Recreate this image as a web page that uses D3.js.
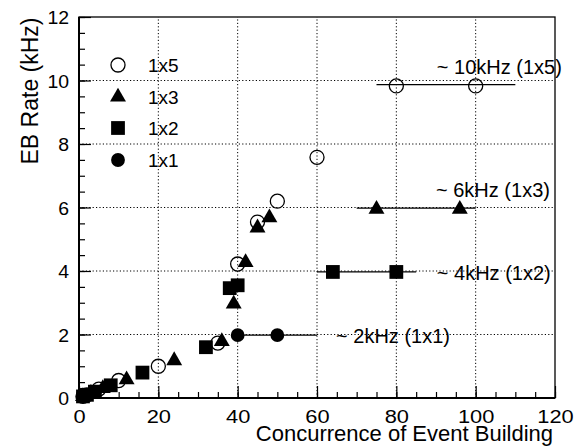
<!DOCTYPE html>
<html><head><meta charset="utf-8">
<script src="https://cdn.jsdelivr.net/npm/d3@7"></script>
<style>body{margin:0;background:#fff}svg{display:block}text{font-family:"Liberation Sans",Arial,sans-serif;fill:#000}</style>
</head><body><svg id="c" width="578" height="446"></svg>
<script>
// data
const s1x5 = [[1,0.05],[2,0.1],[5,0.28],[10,0.55],[20,1.0],[35,1.73],[40,4.22],[45,5.54],[50,6.2],[60,7.58],[80,9.83],[100,9.83]];
const s1x3 = [[1,0.05],[3,0.15],[6,0.3],[12,0.58],[24,1.18],[36,1.78],[39,2.96],[42,4.27],[45,5.36],[48,5.68],[75,5.95],[96,5.95]];
const s1x2 = [[1,0.05],[2,0.1],[4,0.2],[8,0.4],[16,0.8],[32,1.6],[38,3.46],[40,3.55],[64,3.97],[80,3.97]];
const s1x1 = [[1,0.05],[2,0.1],[4,0.2],[40,1.98],[50,1.98]];
const levelLines = [[75,110,9.87],[70,100,5.98],[60,85,3.97],[40,60,1.98]];
const annotations = [["~ 10kHz (1x5)",90.2,10.44],["~ 6kHz (1x3)",90,6.57],["~ 4kHz (1x2)",90.2,3.95],["~ 2kHz (1x1)",64.8,1.97]];
const legendLabels = ["1x5","1x3","1x2","1x1"];
const xTicks = [0,20,40,60,80,100,120];
const yTicks = [0,2,4,6,8,10,12];

const svg = d3.select("#c");
const L=79,R=555,T=17,B=398;
const x = d3.scaleLinear().domain([0,120]).range([L,R]);
const y = d3.scaleLinear().domain([0,12]).range([B,T]);

// grid
const g = svg.append("g");
g.selectAll(".gx").data(xTicks.slice(1,-1)).enter().append("line")
 .attr("x1",d=>x(d)).attr("x2",d=>x(d)).attr("y1",B).attr("y2",T)
 .attr("stroke","#000").attr("stroke-width",1).attr("stroke-dasharray","1.2,2.2");
g.selectAll(".gy").data(yTicks.slice(1,-1)).enter().append("line")
 .attr("y1",d=>y(d)).attr("y2",d=>y(d)).attr("x1",L).attr("x2",R)
 .attr("stroke","#000").attr("stroke-width",1).attr("stroke-dasharray","1.2,2.2");

// axes
const xAxis = d3.axisBottom(x).tickValues(xTicks).tickSize(-12).tickPadding(10);
const xMinor = d3.axisBottom(x).tickValues(d3.range(0,121,5)).tickSize(-6).tickFormat("");
const yAxis = d3.axisLeft(y).tickValues(yTicks).tickSize(-12).tickPadding(10);
const yMinor = d3.axisLeft(y).tickValues(d3.range(0,12.01,0.5)).tickSize(-6).tickFormat("");
function style(sel){sel.select(".domain").remove();sel.selectAll("line").attr("stroke","#000").attr("stroke-width",1.2);sel.selectAll("text").style("font-size","18.5px").style("font-family","Liberation Sans, Arial, sans-serif");}
svg.append("g").attr("transform",`translate(0,${B})`).call(xMinor).call(style);
const xa = svg.append("g").attr("transform",`translate(0,${B})`).call(xAxis).call(style);
xa.selectAll("text").attr("y",25).attr("dy","0").attr("transform","scale(1.18,1)");
svg.append("g").attr("transform",`translate(${L},0)`).call(yMinor).call(style);
const ya = svg.append("g").attr("transform",`translate(${L},0)`).call(yAxis).call(style);
ya.selectAll("text").attr("dy","0.36em").attr("transform","translate(-10,0) scale(1.05,1) translate(10,0)");

// frame
svg.append("rect").attr("x",L).attr("y",T).attr("width",R-L).attr("height",B-T)
 .attr("fill","none").attr("stroke","#000").attr("stroke-width",1.3);
svg.append("line").attr("x1",L).attr("x2",L).attr("y1",T).attr("y2",B).attr("stroke","#000").attr("stroke-width",2);
svg.append("line").attr("x1",L).attr("x2",R).attr("y1",B).attr("y2",B).attr("stroke","#000").attr("stroke-width",2);

// level lines
svg.selectAll(".lv").data(levelLines).enter().append("line")
 .attr("x1",d=>x(d[0])).attr("x2",d=>x(d[1])).attr("y1",d=>y(d[2])).attr("y2",d=>y(d[2]))
 .attr("stroke","#000").attr("stroke-width",1.3);

// markers
const sym = {
 circleOpen: d3.symbol().type(d3.symbolCircle).size(155),
 tri: d3.symbol().type(d3.symbolTriangle).size(110),
 sq: d3.symbol().type(d3.symbolSquare).size(190),
 circ: d3.symbol().type(d3.symbolCircle).size(150)
};
const series = [
 {data:s1x5, path:sym.circleOpen, fill:"none", stroke:"#000"},
 {data:s1x3, path:sym.tri, fill:"#000", stroke:"none"},
 {data:s1x2, path:sym.sq, fill:"#000", stroke:"none"},
 {data:s1x1, path:sym.circ, fill:"#000", stroke:"none"}
];
series.forEach(s=>{
 svg.append("g").selectAll("path").data(s.data).enter().append("path")
  .attr("d",s.path()).attr("transform",d=>`translate(${x(d[0])},${y(d[1])})`)
  .attr("fill",s.fill).attr("stroke",s.stroke).attr("stroke-width",1.3);
});

// legend
const legY=[65,97,128,160];
series.forEach((s,i)=>{
 svg.append("path").attr("d",s.path()).attr("transform",`translate(118,${legY[i]})`)
  .attr("fill",s.fill==="none"?"#fff":s.fill).attr("stroke",s.stroke).attr("stroke-width",1.3);
 svg.append("text").attr("x",148).attr("y",legY[i]).attr("dy","0.36em").style("font-size","19px").text(legendLabels[i]);
});

// annotations
svg.selectAll(".an").data(annotations).enter().append("text")
 .attr("x",d=>x(d[1])).attr("y",d=>y(d[2])).attr("dy","0.36em").style("font-size","20px").text(d=>d[0]);

// axis titles
svg.append("text").attr("x",553).attr("y",441).attr("text-anchor","end").style("font-size","22px").text("Concurrence of Event Building");
svg.append("text").attr("transform","translate(38,91) rotate(-90)").attr("text-anchor","middle").style("font-size","23px").text("EB Rate (kHz)");
</script></body></html>
